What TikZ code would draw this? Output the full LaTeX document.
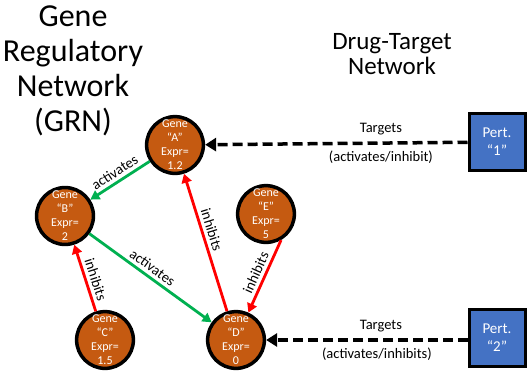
\documentclass[tikz,border=0pt]{standalone}
\usepackage{fontspec}
\setmainfont{Carlito}
\usetikzlibrary{arrows.meta}
\definecolor{geneorange}{HTML}{C55A11}
\definecolor{pertblue}{HTML}{4472C4}
\definecolor{actgreen}{HTML}{00B050}
\begin{document}
\begin{tikzpicture}[x=1pt,y=-1pt,
  gene/.style={circle,draw=black,line width=3.5pt,fill=geneorange,minimum size=54pt,inner sep=0pt,
    text=white,font=\fontsize{12}{14}\selectfont,align=center},
  pert/.style={rectangle,draw=black,line width=3pt,fill=pertblue,minimum width=56pt,minimum height=57pt,
    text=white,font=\fontsize{15}{18}\selectfont,align=center},
  actedge/.style={draw=actgreen,line width=2.8pt,-{Triangle[length=9pt,width=10pt]}},
  inhedge/.style={draw=red,line width=2.8pt,-{Triangle[length=9pt,width=10pt]}},
  target/.style={draw=black,line width=3.5pt,dash pattern=on 10pt off 5pt,-{Triangle[length=11pt,width=13pt]}},
  elabel/.style={font=\fontsize{14.5}{16}\selectfont,text=black},
  title/.style={font=\fontsize{32}{35}\selectfont,align=center},
]
\useasboundingbox (0,0) rectangle (527,375);

\node[title] (grn) at (73,71) {Gene\\Regulatory\\Network\\(GRN)};
\node[font=\fontsize{25}{25}\selectfont,align=center] (dtn) at (392,54) {Drug-Target\\Network};

\node[gene] (A) at (175,145) {Gene\\“A”\\Expr=\\1.2};
\node[gene] (B) at (65,216) {Gene\\“B”\\Expr=\\2};
\node[gene] (C) at (105,340) {Gene\\“C”\\Expr=\\1.5};
\node[gene] (D) at (236,340) {Gene\\“D”\\Expr=\\0};
\node[gene] (E) at (266,214) {Gene\\“E”\\Expr=\\5};

\node[pert] (P1) at (497,142) {Pert.\\“1”};
\node[pert] (P2) at (497,338) {Pert.\\“2”};

\draw[actedge] (A) -- node[elabel,sloped,above] {activates} (B);
\draw[actedge] (B) -- node[elabel,sloped,above,pos=0.47] {activates} (D);
\draw[inhedge] (C) -- node[elabel,sloped,above,pos=0.43] {inhibits} (B);
\draw[inhedge] (D) -- node[elabel,sloped,above,pos=0.57] {inhibits} (A);
\draw[inhedge] (E.-60) -- node[elabel,sloped,above] {inhibits} (D);

\draw[target] (P1) -- node[elabel,above=3pt,pos=0.33] {Targets} node[elabel,below=3pt,pos=0.33] {(activates/inhibit)} (A);
\draw[target] (P2.west |- D) -- node[elabel,above=3pt,pos=0.43] {Targets} node[elabel,below=3pt,pos=0.45] {(activates/inhibits)} (D);
\end{tikzpicture}
\end{document}
